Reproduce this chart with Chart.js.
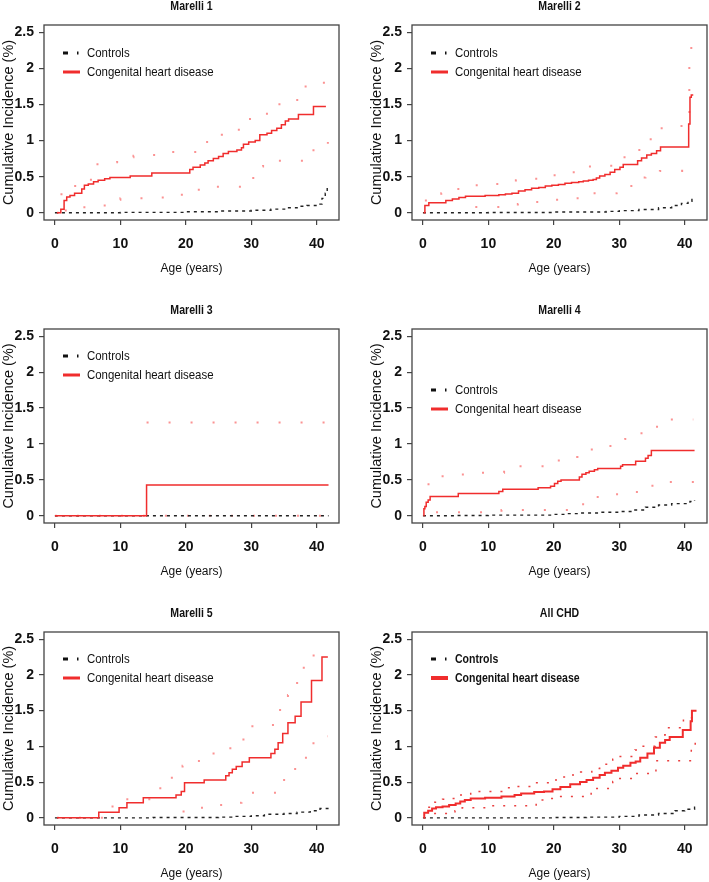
<!DOCTYPE html>
<html>
<head>
<meta charset="utf-8">
<script src="https://cdn.jsdelivr.net/npm/chart.js@4.4.1/dist/chart.umd.min.js"></script>
<style>
  html, body { margin: 0; padding: 0; background: #fff; width: 709px; height: 882px; overflow: hidden; }
  .panel { position: absolute; }
</style>
</head>
<body>
<div class="panel" style="left:0;top:0;width:345px;height:277px"><canvas id="c1"></canvas></div>
<div class="panel" style="left:368px;top:0;width:341px;height:277px"><canvas id="c2"></canvas></div>
<div class="panel" style="left:0;top:290px;width:345px;height:290px"><canvas id="c3"></canvas></div>
<div class="panel" style="left:368px;top:290px;width:341px;height:290px"><canvas id="c4"></canvas></div>
<div class="panel" style="left:0;top:590px;width:345px;height:292px"><canvas id="c5"></canvas></div>
<div class="panel" style="left:368px;top:590px;width:341px;height:292px"><canvas id="c6"></canvas></div>
<script>
const xTicks = [0, 10, 20, 30, 40];
const yTicks = [0, 0.5, 1, 1.5, 2, 2.5];
const seriesLabels = ["Controls", "Congenital heart disease"];

// [age, cumulative incidence %] at each step
const m1Chd = [[0.3,0],[0.9,0.05],[1.4,0.17],[1.8,0.22],[2.3,0.24],[3.0,0.27],[4.1,0.33],[4.5,0.38],[5.1,0.40],[5.9,0.43],[6.6,0.45],[7.6,0.47],[8.4,0.49],[11.5,0.51],[14.8,0.55],[20.6,0.60],[21.1,0.63],[22.2,0.66],[22.9,0.69],[23.4,0.72],[24.2,0.75],[25.0,0.78],[25.7,0.82],[26.5,0.85],[27.8,0.87],[28.5,0.90],[28.8,0.95],[29.6,0.98],[30.6,1.00],[31.3,1.08],[32.4,1.10],[33.1,1.14],[33.9,1.17],[34.6,1.22],[35.2,1.27],[35.7,1.30],[37.2,1.36],[39.5,1.47],[41.4,1.47]];
const m1Upper = [[0.3,0],[1.0,0.37],[5.5,0.65],[6.5,0.70],[9.5,0.77],[12.0,0.79],[14.5,0.80],[17.0,0.84],[21.8,0.93],[22.4,0.98],[24.0,1.04],[25.5,1.08],[27.0,1.15],[28.5,1.20],[29.3,1.30],[31.5,1.37],[34.3,1.56],[38.3,1.78],[39.8,1.80],[41.7,1.80]];
const m1Lower = [[1.5,0.03],[4.5,0.10],[8.3,0.18],[10.0,0.20],[14.0,0.21],[17.8,0.25],[21.8,0.32],[22.5,0.36],[30.3,0.64],[31.8,0.72],[39.5,0.93],[41.7,0.98]];
const m1Ctrl = [[0,0],[10,0.005],[20,0.015],[25,0.025],[30,0.035],[33,0.05],[35.5,0.07],[37,0.09],[38.5,0.10],[40,0.12],[40.8,0.20],[41.3,0.27],[41.6,0.35],[41.8,0.35]];

const m2Chd = [[0.1,0],[0.3,0.10],[0.9,0.14],[3.5,0.17],[4.5,0.19],[5.5,0.21],[6.5,0.23],[9.5,0.24],[11.6,0.25],[12.6,0.26],[13.6,0.27],[14.6,0.30],[15.6,0.32],[16.6,0.34],[17.7,0.35],[18.7,0.37],[19.7,0.38],[20.7,0.39],[21.7,0.41],[22.7,0.42],[23.8,0.43],[24.5,0.44],[25.3,0.45],[26.0,0.46],[26.5,0.48],[27.0,0.51],[27.8,0.53],[28.6,0.56],[29.3,0.60],[30.1,0.63],[30.6,0.67],[32.8,0.72],[33.4,0.76],[34.2,0.80],[34.9,0.82],[35.7,0.86],[36.3,0.91],[40.6,1.23],[40.8,1.60],[41.0,1.63],[41.3,1.63]];
const m2Upper = [[0.3,0.17],[2.8,0.27],[5.0,0.33],[7.5,0.38],[11.2,0.40],[14.2,0.45],[15.7,0.47],[18.7,0.52],[20.5,0.55],[21.5,0.56],[23.2,0.60],[23.7,0.62],[25.3,0.64],[26.6,0.65],[30.8,0.87],[33.6,0.98],[34.8,1.08],[36.2,1.17],[38.0,1.20],[40.7,2.10],[41.0,2.41],[41.3,2.41]];
const m2Lower = [[8.0,0.08],[14.5,0.12],[15.6,0.15],[18.0,0.18],[20.5,0.20],[25.8,0.27],[29.6,0.37],[33.7,0.49],[34.0,0.53],[36.2,0.58],[39.6,0.60],[41.0,0.54],[41.3,0.54]];
const m2Ctrl = [[0,0],[10,0.003],[20,0.01],[28,0.02],[30,0.03],[33,0.045],[36,0.07],[38,0.10],[39.5,0.13],[40.5,0.16],[41.1,0.20],[41.3,0.20]];

const m3Chd = [[0,0],[14.0,0.43],[41.8,0.43]];
const m3Upper = [[14.0,1.30],[41.8,1.30]];
const m3Lower = [[0,0],[41.8,0]];
const m3Ctrl = [[0,0],[41.8,0]];

const m4Chd = [[0.1,0],[0.15,0.10],[0.3,0.13],[0.5,0.19],[0.8,0.22],[1.1,0.27],[5.4,0.31],[11.6,0.34],[12.2,0.37],[17.6,0.39],[19.5,0.41],[20.1,0.45],[20.6,0.48],[21.1,0.50],[23.9,0.54],[24.3,0.58],[24.9,0.60],[25.4,0.62],[26.2,0.64],[26.7,0.66],[30.2,0.69],[30.5,0.71],[32.5,0.76],[34.0,0.80],[34.4,0.84],[34.9,0.91],[41.5,0.91]];
const m4Upper = [[0.7,0.44],[1.6,0.55],[5.2,0.55],[6.1,0.60],[12.4,0.69],[16.4,0.69],[19.0,0.71],[20.3,0.77],[22.0,0.82],[23.6,0.87],[25.8,0.97],[28.9,1.02],[30.9,1.07],[33.0,1.15],[34.4,1.24],[36.3,1.34],[41.3,1.34]];
const m4Lower = [[2.0,0.05],[12.0,0.08],[19.0,0.08],[23.6,0.16],[26.7,0.30],[32.0,0.33],[33.0,0.37],[34.6,0.42],[37.5,0.47],[41.5,0.47]];
const m4Ctrl = [[0,0],[5,0.005],[10,0.01],[20,0.02],[22,0.03],[24,0.04],[27,0.05],[30,0.06],[32,0.08],[34,0.12],[36,0.15],[38,0.17],[40.8,0.20],[41.5,0.22]];

const m5Chd = [[0.3,0],[6.7,0.08],[9.8,0.14],[11.0,0.21],[13.5,0.28],[18.5,0.32],[19.3,0.37],[19.8,0.49],[22.8,0.53],[26.1,0.59],[26.6,0.63],[27.1,0.68],[27.7,0.72],[28.6,0.78],[29.7,0.84],[33.0,0.90],[33.6,0.96],[34.1,1.05],[34.8,1.18],[35.6,1.33],[36.7,1.42],[37.6,1.62],[39.2,1.92],[40.8,2.25],[41.7,2.25]];
const m5Upper = [[0.3,0],[8.8,0.21],[10.0,0.26],[16.1,0.56],[18.6,0.62],[19.5,0.73],[22.0,0.83],[23.0,0.90],[26.8,1.05],[28.8,1.20],[29.8,1.28],[33.0,1.30],[34.4,1.54],[35.6,1.72],[35.9,1.85],[37.0,1.98],[37.8,2.10],[39.0,2.27],[41.7,2.27]];
const m5Lower = [[19.5,0.09],[22.3,0.14],[25.0,0.18],[26.2,0.21],[28.5,0.30],[29.7,0.35],[34.4,0.53],[35.6,0.63],[36.7,0.76],[37.8,0.84],[39.3,1.00],[39.5,1.14],[41.7,1.14]];
const m5Ctrl = [[0,0],[15,0.005],[25,0.01],[27,0.02],[30,0.03],[32,0.05],[35,0.06],[37,0.08],[39,0.10],[40.5,0.13],[41.7,0.14]];

const m6Chd = [[0.1,0],[0.2,0.07],[0.8,0.10],[1.4,0.13],[2.0,0.15],[3.0,0.16],[4.0,0.18],[5.0,0.20],[5.7,0.23],[6.4,0.25],[7.3,0.27],[9.5,0.28],[12.0,0.30],[14.0,0.32],[15.0,0.34],[17.0,0.36],[18.5,0.37],[19.8,0.40],[21.0,0.43],[22.5,0.47],[24.0,0.50],[25.0,0.53],[26.0,0.56],[27.0,0.60],[27.8,0.63],[28.8,0.66],[29.8,0.70],[30.6,0.73],[31.7,0.77],[32.5,0.79],[33.2,0.84],[34.3,0.90],[35.3,0.98],[36.2,1.05],[37.0,1.09],[37.7,1.13],[39.7,1.23],[40.9,1.35],[41.1,1.50],[41.8,1.50]];
const m6Upper = [[0.8,0.15],[1.2,0.19],[1.8,0.22],[2.4,0.24],[3.0,0.26],[3.5,0.27],[5.3,0.32],[7.3,0.37],[12.6,0.42],[14.3,0.44],[16.9,0.49],[19.6,0.53],[20.6,0.55],[21.4,0.57],[22.4,0.60],[24.1,0.64],[25.8,0.69],[27.0,0.75],[29.0,0.82],[29.5,0.86],[32.4,0.95],[33.3,1.00],[35.5,1.13],[35.8,1.16],[37.0,1.26],[39.8,1.40],[41.8,1.41]];
const m6Lower = [[1.7,0.06],[4.9,0.10],[6.0,0.14],[9.8,0.17],[17.3,0.25],[19.2,0.27],[20.8,0.30],[25.7,0.41],[29.0,0.51],[29.5,0.55],[32.4,0.62],[35.6,0.80],[41.0,1.00],[41.6,1.10],[41.8,1.10]];
const m6Ctrl = [[0,0],[20,0.005],[25,0.01],[30,0.02],[33,0.04],[36,0.06],[38.5,0.10],[40,0.12],[41.5,0.15],[41.8,0.15]];

const SANS = "'Liberation Sans', Arial, sans-serif";
const RED = "rgb(240,45,45)";

const panels = [
  { id: "c1", title: "Marelli 1", chd: m1Chd, upper: m1Upper, lower: m1Lower, ctrl: m1Ctrl, padTop: 25, padRight: 6, legendY: 28 },
  { id: "c2", title: "Marelli 2", chd: m2Chd, upper: m2Upper, lower: m2Lower, ctrl: m2Ctrl, padTop: 25, padRight: 2, legendY: 28 },
  { id: "c3", title: "Marelli 3", chd: m3Chd, upper: m3Upper, lower: m3Lower, ctrl: m3Ctrl, padTop: 39, padRight: 6, legendY: 27 },
  { id: "c4", title: "Marelli 4", chd: m4Chd, upper: m4Upper, lower: m4Lower, ctrl: m4Ctrl, padTop: 39, padRight: 2, legendY: 61 },
  { id: "c5", title: "Marelli 5", chd: m5Chd, upper: m5Upper, lower: m5Lower, ctrl: m5Ctrl, padTop: 42, padRight: 6, legendY: 27 },
  { id: "c6", title: "All CHD", chd: m6Chd, upper: m6Upper, lower: m6Lower, ctrl: m6Ctrl, padTop: 42, padRight: 2, legendY: 27, bold: true }
];

const toXY = pts => pts.map(p => ({ x: p[0], y: p[1] }));

// text squeezed sideways, the figure uses a condensed face
function narrowText(ctx, text, x, y, squeeze) {
  ctx.save();
  ctx.translate(x, y);
  ctx.scale(squeeze, 1);
  ctx.fillText(text, 0, 0);
  ctx.restore();
}

// box, title and in-plot legend, drawn the way the R figure does
const panelDeco = {
  id: "panelDeco",
  afterDraw(chart, args, opts) {
    const { ctx, chartArea: a } = chart;
    ctx.save();
    ctx.strokeStyle = "#444";
    ctx.lineWidth = 1.3;
    ctx.strokeRect(a.left, a.top, a.right - a.left, a.bottom - a.top);

    ctx.fillStyle = "#111";
    ctx.textAlign = "center";
    ctx.textBaseline = "middle";
    ctx.font = "bold 12px " + SANS;
    narrowText(ctx, opts.title, (a.left + a.right) / 2, a.top - 18, 0.88);

    const x0 = a.left + 19, x1 = a.left + 36, tx = a.left + 43;
    const y0 = a.top + opts.legendY, y1 = y0 + 19;
    ctx.lineWidth = 3;
    ctx.strokeStyle = "#111";
    ctx.setLineDash([5, 9, 1.5, 20]);
    ctx.beginPath(); ctx.moveTo(x0, y0); ctx.lineTo(x1, y0); ctx.stroke();
    ctx.setLineDash([]);
    ctx.strokeStyle = RED;
    ctx.lineWidth = opts.bold ? 4 : 3;
    ctx.beginPath(); ctx.moveTo(x0, y1); ctx.lineTo(x1, y1); ctx.stroke();

    ctx.textAlign = "left";
    ctx.font = (opts.bold ? "bold " : "") + "13px " + SANS;
    const sq = opts.bold ? 0.81 : 0.88;
    narrowText(ctx, seriesLabels[0], tx, y0, sq);
    narrowText(ctx, seriesLabels[1], tx, y1, sq);
    ctx.restore();
  }
};

function makePanel(p) {
  const ciColor = p.bold ? "rgba(230,30,30,0.85)" : "rgba(250,100,100,0.7)";
  const ciDash = p.bold ? [2, 9] : [2, 20];
  const ci = pts => ({
    data: toXY(pts), stepped: true, borderColor: ciColor, borderWidth: p.bold ? 1.5 : 2,
    borderDash: ciDash, pointRadius: 0, fill: false
  });

  new Chart(document.getElementById(p.id), {
    type: "line",
    data: {
      datasets: [
        { label: seriesLabels[1], data: toXY(p.chd), stepped: true, borderColor: RED, borderWidth: p.bold ? 2 : 1.5, pointRadius: 0, fill: false },
        { label: seriesLabels[0], data: toXY(p.ctrl), stepped: true, borderColor: "#222", borderWidth: 1.4, borderDash: [3, 4], pointRadius: 0, fill: false },
        ci(p.upper),
        ci(p.lower)
      ]
    },
    options: {
      responsive: true,
      maintainAspectRatio: false,
      animation: false,
      layout: { padding: { top: p.padTop, right: p.padRight, left: 0, bottom: 0 } },
      plugins: {
        legend: { display: false },
        tooltip: { enabled: false },
        panelDeco: { title: p.title, legendY: p.legendY, bold: p.bold }
      },
      scales: {
        x: {
          type: "linear", min: -1.67, max: 43.4,
          afterBuildTicks: s => { s.ticks = xTicks.map(v => ({ value: v })); },
          afterFit: s => { s.height = 57; },
          border: { display: false },
          grid: { drawOnChartArea: false, tickLength: 5, color: "#444", lineWidth: 1.2 },
          ticks: { padding: 11, color: "#111", maxRotation: 0, font: { family: SANS, size: 14, weight: "bold" }, callback: v => String(v) },
          title: { display: true, text: "Age (years)", color: "#111", font: { family: SANS, size: 12 }, padding: { top: 0, bottom: 1 } }
        },
        y: {
          type: "linear", min: -0.1, max: 2.6,
          afterBuildTicks: s => { s.ticks = yTicks.map(v => ({ value: v })); },
          afterFit: s => { s.width = 44; },
          border: { display: false },
          grid: { drawOnChartArea: false, tickLength: 5, color: "#444", lineWidth: 1.2 },
          ticks: { padding: 5, color: "#111", font: { family: SANS, size: 14, weight: "bold" }, callback: v => String(v) },
          title: { display: true, text: "Cumulative Incidence (%)", color: "#111", font: { family: SANS, size: 14.5 }, padding: { top: 0, bottom: 0 } }
        }
      }
    },
    plugins: [panelDeco]
  });
}

panels.forEach(makePanel);
</script>
</body>
</html>
